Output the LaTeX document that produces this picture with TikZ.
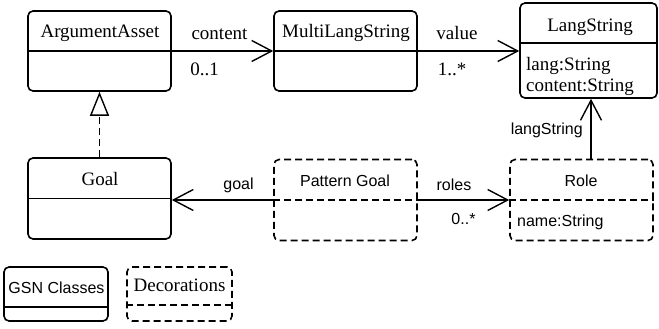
\documentclass[tikz,border=0pt]{standalone}
\usepackage{fontspec}
\setmainfont{Liberation Serif}
\setsansfont{Liberation Sans}
\usetikzlibrary{arrows.meta}
\begin{document}
\begin{tikzpicture}[x=1pt,y=-1pt,
  cls/.style={draw, line width=1.6pt, rounded corners=5pt, inner sep=0pt},
  deco/.style={cls, dash pattern=on 7pt off 4pt},
  divider/.style={line width=1.6pt},
  ddivider/.style={divider, dash pattern=on 7pt off 4pt},
  serif/.style={font=\fontsize{19}{22}\selectfont, inner sep=0pt, anchor=base},
  sans/.style={font=\sffamily\fontsize{16}{19}\selectfont, inner sep=0pt, anchor=base},
  assoc/.style={line width=1.4pt, -{Straight Barb[length=20pt,width=21pt,line width=1.4pt]}},
  generalize/.style={line width=1.4pt, dash pattern=on 7pt off 4pt,
    -{Triangle[open,length=24pt,width=19pt,line width=1.4pt,fill=white]}}
]
\useasboundingbox (0,0) rectangle (659,329);

% GSN classes
\node[cls, minimum width=143pt, minimum height=80pt] (aa) at (99.5,51) {};
\draw[divider] (aa.west) -- (aa.east);
\node[serif] (aa-t) at (100,37.5) {ArgumentAsset};

\node[cls, minimum width=143pt, minimum height=80pt] (mls) at (345.5,51) {};
\draw[divider] (mls.west) -- (mls.east);
\node[serif] (mls-t) at (346,37.5) {MultiLangString};

\node[cls, minimum width=137pt, minimum height=95pt] (ls) at (588.5,50.5) {};
\draw[divider] (ls.west |- 0,43) -- (ls.east |- 0,43);
\node[serif] (ls-t) at (590,31.5) {LangString};
\node[serif, anchor=base west] (ls-a1) at (526,70.5) {lang:String};
\node[serif, anchor=base west] (ls-a2) at (526,91.5) {content:String};

\node[cls, minimum width=143pt, minimum height=81pt] (goal) at (99.5,198.5) {};
\draw[divider] (goal.west) -- (goal.east);
\node[serif] (goal-t) at (100,185) {Goal};

% Decorations
\node[deco, minimum width=143pt, minimum height=81pt] (pg) at (345.5,200) {};
\draw[ddivider] (pg.west) -- (pg.east);
\node[sans] (pg-t) at (345,186.5) {Pattern Goal};

\node[deco, minimum width=143pt, minimum height=81pt] (role) at (581.5,200) {};
\draw[ddivider] (role.west) -- (role.east);
\node[sans] (role-t) at (581,186.5) {Role};
\node[sans, anchor=base west] (role-a1) at (517,226.5) {name:String};

% Relations
\draw[assoc] (aa.east) -- (mls.west);
\node[serif] (l-content) at (219.5,40) {content};
\node[serif] (m-content) at (204.5,75.5) {0..1};

\draw[assoc] (mls.east) -- (mls.east -| ls.west);
\node[serif] (l-value) at (457,40) {value};
\node[serif] (m-value) at (452,75.5) {1..*};

\draw[generalize] (goal.north) -- (aa.south);

\draw[assoc] (pg.west) -- (pg.west -| goal.east);
\node[sans] (l-goal) at (238.5,189) {goal};

\draw[assoc] (pg.east) -- (role.west);
\node[sans] (l-roles) at (454,190.5) {roles};
\node[sans] (m-roles) at (463.5,224) {0..*};

\draw[assoc] ([xshift=9.5pt]role.north) -- ([xshift=9.5pt]role.north |- ls.south);
\node[sans, anchor=base east] (l-ls) at (583,135) {langString};

% Legend
\node[cls, minimum width=104pt, minimum height=54pt] (key1) at (56,294) {};
\draw[divider] (key1.west |- 0,307) -- (key1.east |- 0,307);
\node[sans] (key1-t) at (56.5,293) {GSN Classes};

\node[deco, minimum width=105pt, minimum height=54pt] (key2) at (179.5,294) {};
\draw[ddivider] (key2.west |- 0,305) -- (key2.east |- 0,305);
\node[serif] (key2-t) at (179.5,291.5) {Decorations};
\end{tikzpicture}
\end{document}
